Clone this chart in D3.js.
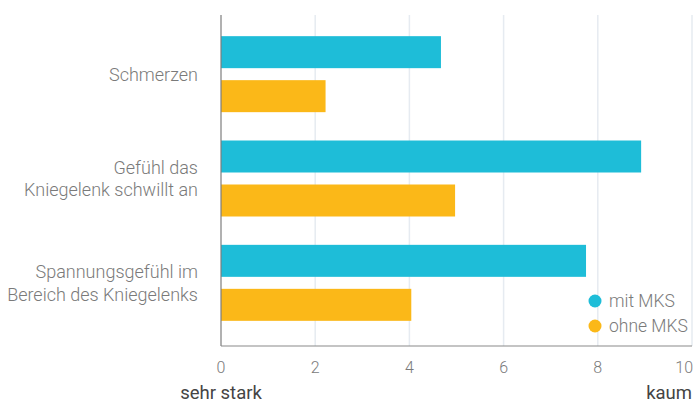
<!DOCTYPE html>
<meta charset="utf-8">
<style>
  body { margin: 0; background: #fff; }
  text { font-family: Roboto, "Noto Sans", sans-serif; }
  .axis-label { fill: #7a7a7a; font-weight: 300; }
  .grid line { stroke: #e6ebf1; stroke-width: 1.5; }
</style>
<body>
<svg width="697" height="403"></svg>
<script src="https://cdn.jsdelivr.net/npm/d3@7"></script>
<script>
  const categories = [
    ["Schmerzen"],
    ["Gefühl das", "Kniegelenk schwillt an"],
    ["Spannungsgefühl im", "Bereich des Kniegelenks"]
  ];
  const seriesNames = ["mit MKS", "ohne MKS"];
  const mitMKS = [4.67, 8.92, 7.75];
  const ohneMKS = [2.22, 4.97, 4.04];
  const xTicks = [0, 2, 4, 6, 8, 10];
  const colors = ["#1ebdd8", "#fbb818"];

  const svg = d3.select("svg");
  const margin = { left: 221, top: 15 };
  const plotRight = 692;
  const plotBottom = 346;

  const x = d3.scaleLinear().domain([0, 10]).range([margin.left, plotRight]);
  const keys = categories.map((c, i) => i);
  const y0 = d3.scaleBand().domain(keys).range([22, 335])
      .paddingInner(0.2716).paddingOuter(0.1358);
  const y1 = d3.scaleBand().domain(seriesNames).range([0, y0.bandwidth()])
      .paddingInner(0.2727);

  // grid
  svg.append("g").attr("class", "grid")
    .selectAll("line").data(xTicks.slice(1)).enter().append("line")
      .attr("x1", d => x(d)).attr("x2", d => x(d))
      .attr("y1", margin.top).attr("y2", plotBottom);

  const data = keys.map(i => ({ i, values: [mitMKS[i], ohneMKS[i]] }));

  const groups = svg.append("g").selectAll("g").data(data).enter().append("g")
      .attr("transform", d => `translate(0,${y0(d.i)})`);
  groups.selectAll("rect").data(d => d.values.map((v, k) => ({ v, k })))
    .enter().append("rect")
      .attr("x", x(0))
      .attr("y", d => y1(seriesNames[d.k]))
      .attr("height", y1.bandwidth())
      .attr("width", d => x(d.v) - x(0))
      .attr("fill", d => colors[d.k]);

  // axes lines
  svg.append("line").attr("x1", x(0)).attr("x2", x(0))
    .attr("y1", margin.top).attr("y2", plotBottom)
    .attr("stroke", "#7d7d7d").attr("stroke-width", 1.2);
  svg.append("line").attr("x1", x(0)).attr("x2", plotRight)
    .attr("y1", plotBottom).attr("y2", plotBottom)
    .attr("stroke", "#8a8a8a").attr("stroke-width", 1.2);

  // x tick labels
  svg.append("g").selectAll("text").data(xTicks).enter().append("text")
    .attr("class", "axis-label")
    .attr("x", d => d === 10 ? plotRight + 1 : x(d))
    .attr("y", 373)
    .attr("text-anchor", d => d === 10 ? "end" : "middle")
    .attr("font-size", 16)
    .text(d => d);

  // category labels
  const labelSize = 18, lineH = 22.5;
  const labels = svg.append("g").selectAll("text").data(categories).enter().append("text")
    .attr("class", "axis-label")
    .attr("text-anchor", "end")
    .attr("font-size", labelSize)
    .attr("transform", (d, i) => `translate(198,${y0(i) + y0.bandwidth() / 2})`);
  labels.selectAll("tspan").data(d => d.map((t, k) => ({ t, k, n: d.length })))
    .enter().append("tspan")
      .attr("x", 0)
      .attr("y", d => (d.k - (d.n - 1) / 2) * lineH + 6.5)
      .text(d => d.t);

  // end labels
  svg.append("text").attr("x", x(0)).attr("y", 399)
    .attr("text-anchor", "middle").attr("font-size", 18.5).attr("fill", "#444")
    .text("sehr stark");
  svg.append("text").attr("x", plotRight).attr("y", 399)
    .attr("text-anchor", "end").attr("font-size", 18.5).attr("fill", "#444")
    .text("kaum");

  // legend
  const legend = svg.append("g").selectAll("g").data(seriesNames).enter().append("g")
    .attr("transform", (d, i) => `translate(595,${301 + i * 25})`);
  legend.append("circle").attr("r", 6.5).attr("fill", (d, i) => colors[i]);
  legend.append("text").attr("class", "axis-label")
    .attr("x", 14).attr("y", 6).attr("font-size", 17.5).text(d => d);
</script>
</body>
